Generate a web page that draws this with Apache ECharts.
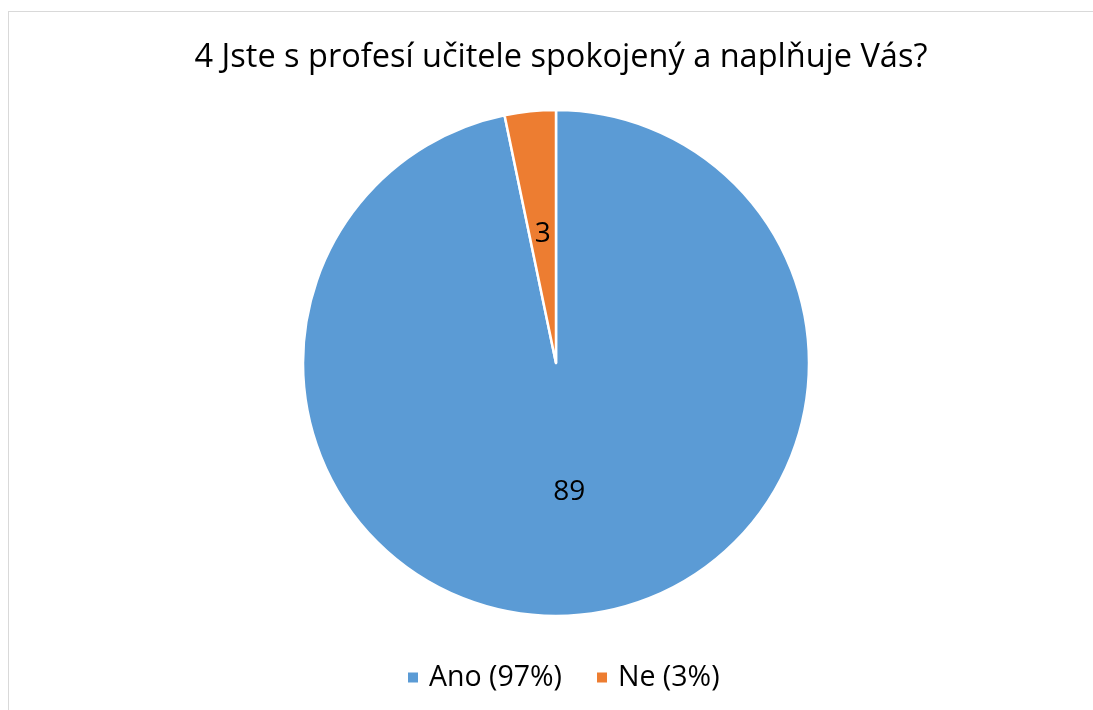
<!DOCTYPE html>
<html>
<head>
<meta charset="utf-8">
<script src="https://cdn.jsdelivr.net/npm/echarts@6/dist/echarts.min.js"></script>
<style>
  html, body { margin: 0; padding: 0; background: #fff; }
  #frame {
    position: absolute; left: 8px; top: 11px; width: 1085px; height: 699px;
    border-top: 1px solid #d9d9d9; border-left: 1px solid #d9d9d9;
  }
  #chart { position: absolute; left: 0; top: 0; width: 1093px; height: 710px; }
</style>
</head>
<body>
<div id="frame"></div>
<div id="chart"></div>
<script>
  let titleText = '4 Jste s profesí učitele spokojený a naplňuje Vás?'
  let categories = ['Ano', 'Ne']
  let values = [89, 3]
  let colors = ['#5B9BD5', '#ED7D31']

  let total = values.reduce((a, b) => a + b, 0)
  let legendNames = categories.map((c, i) => c + ' (' + Math.round(values[i] / total * 100) + '%)')
  let font = '"Open Sans", "Liberation Sans", sans-serif'

  let myChart = echarts.init(document.getElementById('chart'))
  myChart.setOption({
    backgroundColor: 'transparent',
    animation: false,
    title: {
      text: titleText,
      left: 556,
      textAlign: 'center',
      top: 36,
      textStyle: { fontFamily: font, fontSize: 32.5, fontWeight: 'normal', color: '#000' }
    },
    legend: {
      top: 658,
      left: 401,
      icon: 'rect',
      itemWidth: 12,
      itemHeight: 12,
      itemGap: 33,
      textStyle: { fontFamily: font, fontSize: 28.5, color: '#000', padding: [0, 0, 0, 5] },
      data: legendNames
    },
    series: [{
      type: 'pie',
      center: [556, 363],
      radius: 253,
      startAngle: 90,
      clockwise: true,
      avoidLabelOverlap: false,
      itemStyle: { borderColor: '#fff', borderWidth: 2.5 },
      label: {
        show: true,
        position: 'inside',
        formatter: function (p) { return values[p.dataIndex] },
        fontFamily: font,
        fontSize: 28,
        color: '#000'
      },
      labelLine: { show: false },
      data: legendNames.map((n, i) => ({ name: n, value: values[i], itemStyle: { color: colors[i] } }))
    }]
  })
</script>
</body>
</html>
